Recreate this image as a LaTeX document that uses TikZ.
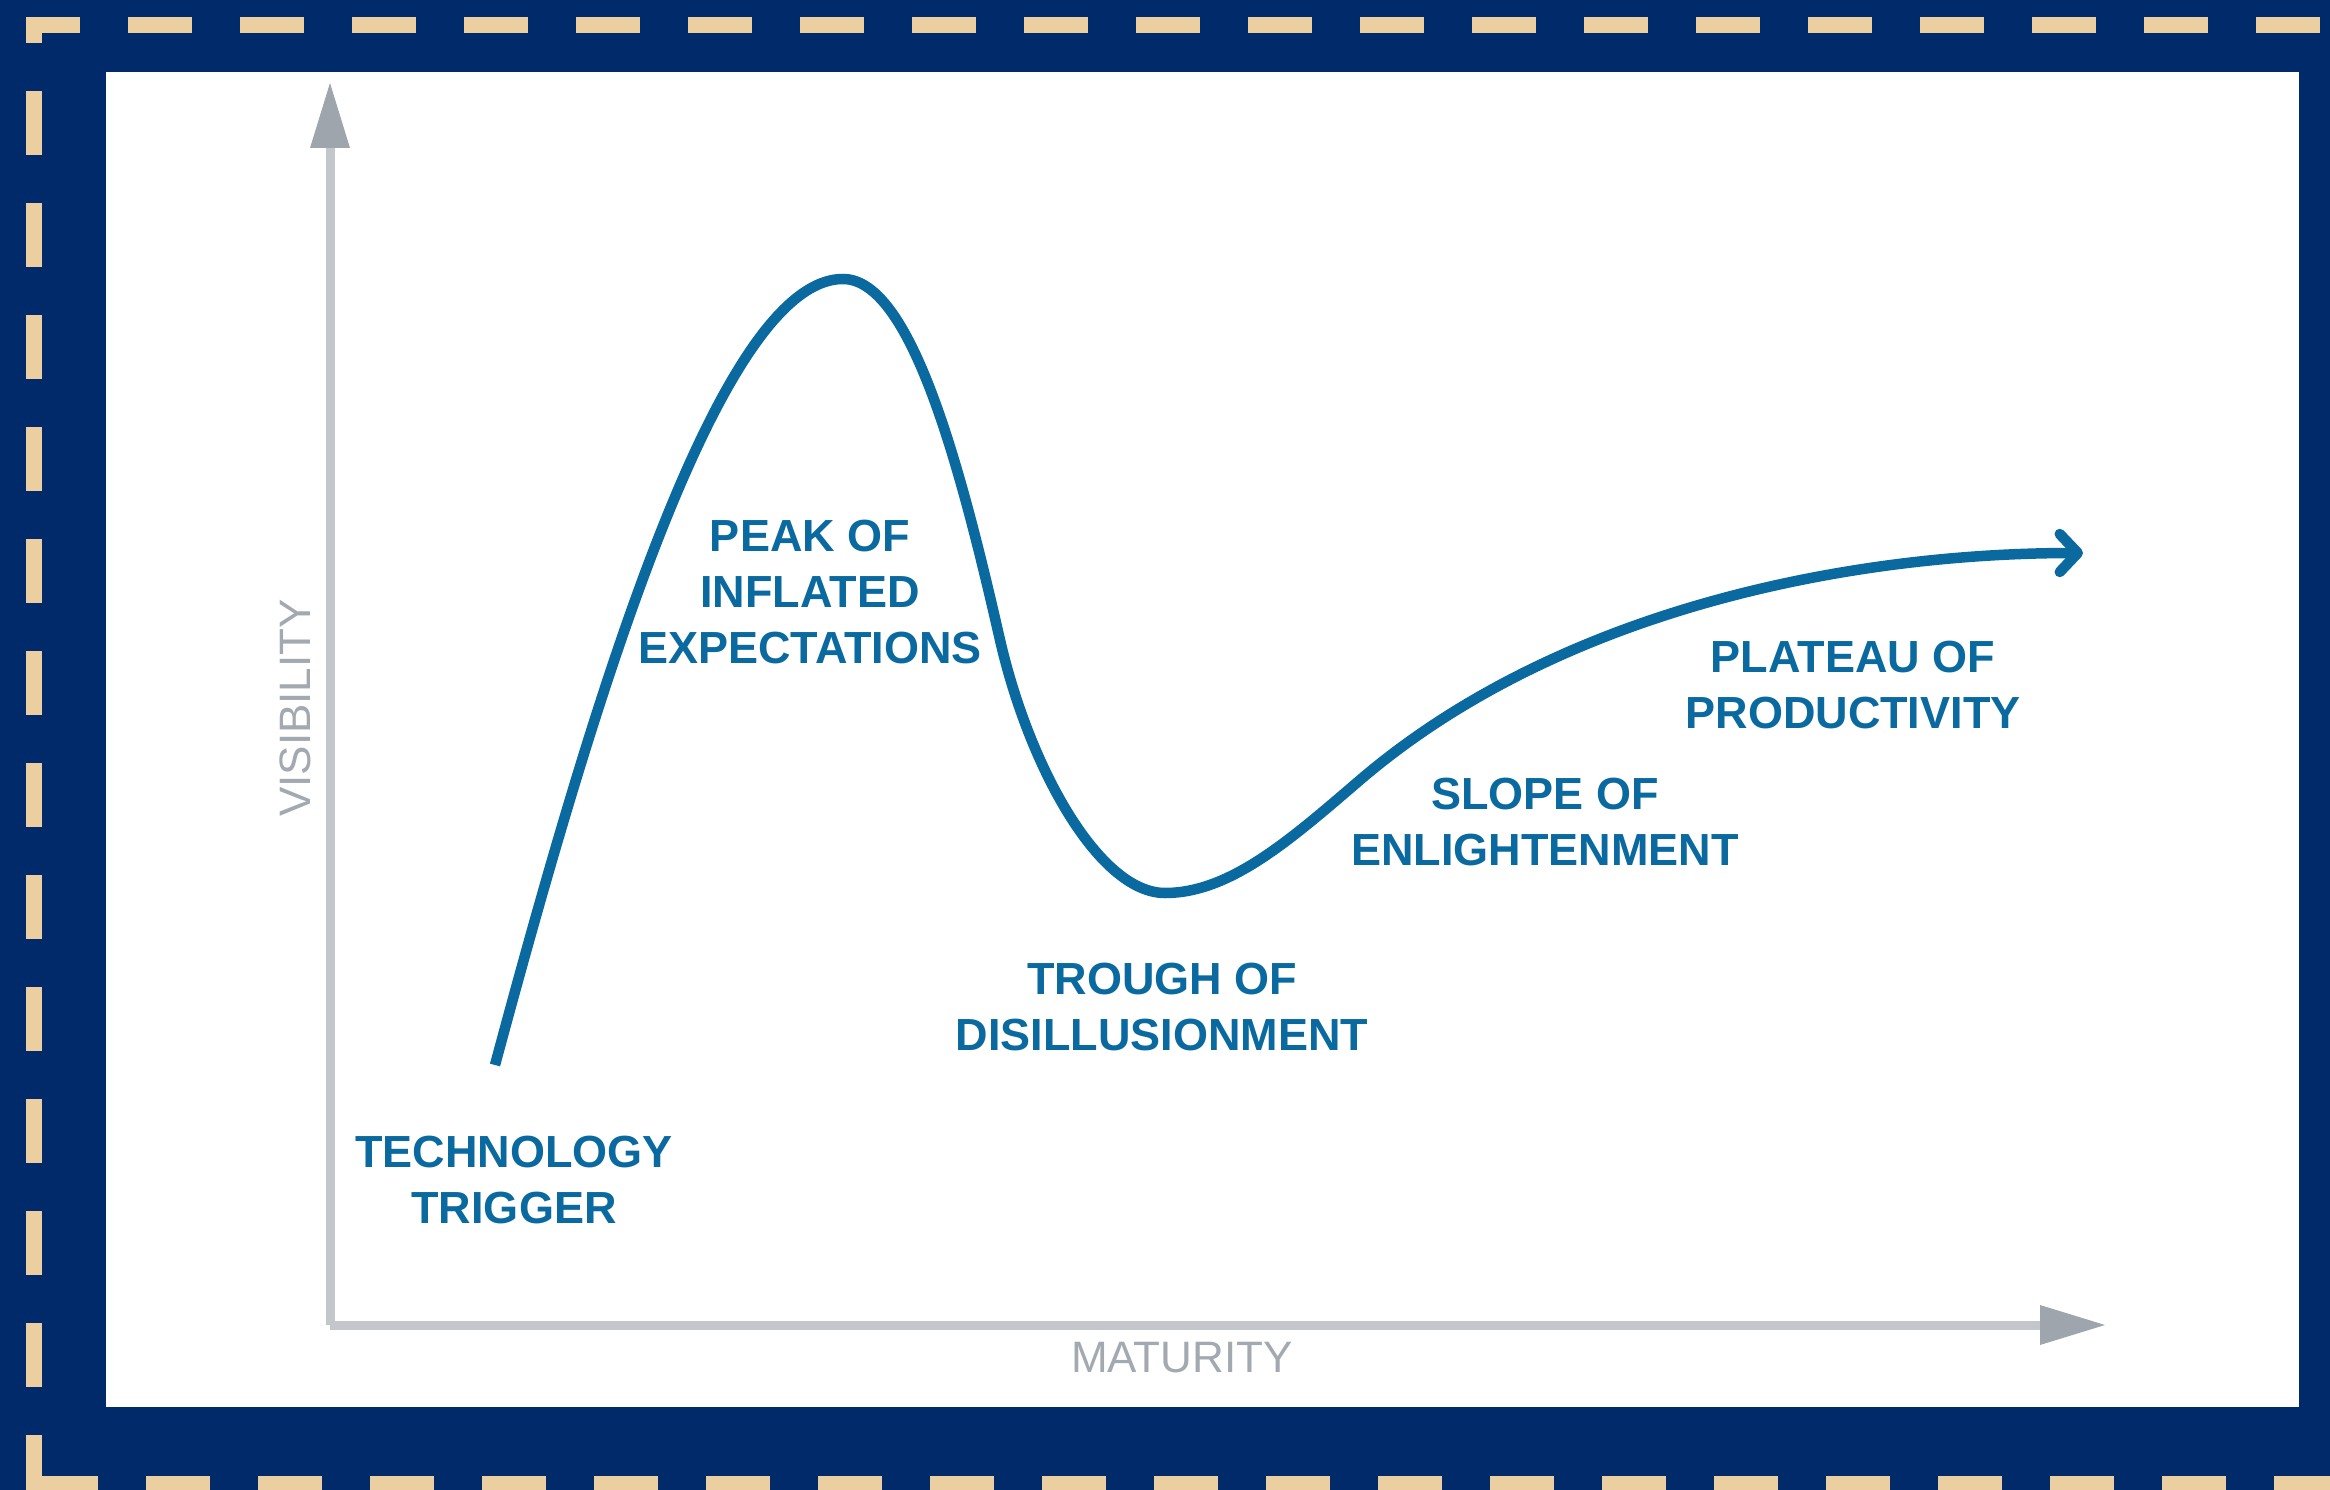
\documentclass[tikz,border=0pt]{standalone}
\usepackage{fontspec}
\setmainfont{Liberation Sans}
\usetikzlibrary{arrows.meta}
\definecolor{navy}{HTML}{002A6A}
\definecolor{sand}{HTML}{ECCFA0}
\definecolor{hypeblue}{HTML}{0A6AA0}
\definecolor{axisgray}{HTML}{C3C7CB}
\definecolor{tipgray}{HTML}{9FA5AD}
\definecolor{labelgray}{HTML}{A3A9B0}
\begin{document}
\begin{tikzpicture}[x=1pt,y=-1pt,
  phase/.style={font=\fontsize{45}{56}\selectfont\bfseries, text=hypeblue, align=center, inner sep=0pt, anchor=base},
  axislabel/.style={font=\fontsize{44}{50}\selectfont, text=labelgray, inner sep=0pt, anchor=base},
  axisline/.style={draw=axisgray, line width=9pt, -{Triangle[length=65pt,width=40pt,line width=0pt,color=tipgray]}},
  border/.style={draw=sand, line width=16pt, dash pattern=on 64pt off 48pt},
  hype/.style={draw=hypeblue, line width=10.5pt, -{Straight Barb[length=18pt,width=38pt,line cap=round,line join=round]}}
]
\useasboundingbox (0,0) rectangle (2330,1490);
\fill[navy] (0,0) rectangle (2330,1490);
\fill[white] (106,72) rectangle (2299,1407);
% dashed frame
\draw[border, dash phase=10pt] (26,25) -- (2345,25);
\draw[border, dash phase=38pt] (34,17) -- (34,1500);
\draw[border] (34,1484) -- (2345,1484);
% axes
\coordinate (O) at (330,1325);
\coordinate (ytop) at (330,83);
\coordinate (xend) at (2105,1325);
\draw[axisline] (O) -- (ytop);
\draw[axisline] (O) -- (xend);
% hype curve
\coordinate (start) at (495,1065);
\coordinate (peak) at (843,279);
\coordinate (fall) at (1000,640);
\coordinate (trough) at (1165,893);
\coordinate (rise) at (1360,780);
\coordinate (plateau) at (2083,553);
\draw[hype] (start) .. controls (584,735) and (715,279) .. (peak)
  .. controls (910,279) and (959,460) .. (fall)
  .. controls (1030,770) and (1100,893) .. (trough)
  .. controls (1230,893) and (1290,840) .. (rise)
  .. controls (1560,609) and (1850,553) .. (plateau);
% labels (anchor = baseline of the last line)
\node[phase] (trigger) at (514,1223) {TECHNOLOGY\\TRIGGER};
\node[phase] (peaklbl) at (810,663) {PEAK OF\\INFLATED\\EXPECTATIONS};
\node[phase] (troughlbl) at (1162,1050) {TROUGH OF\\DISILLUSIONMENT};
\node[phase] (slopelbl) at (1545,865) {SLOPE OF\\ENLIGHTENMENT};
\node[phase] (plateaulbl) at (1853,728) {PLATEAU OF\\PRODUCTIVITY};
\node[axislabel, rotate=90] (vis) at (310,708) {VISIBILITY};
\node[axislabel] (mat) at (1182,1372) {MATURITY};
\end{tikzpicture}
\end{document}
